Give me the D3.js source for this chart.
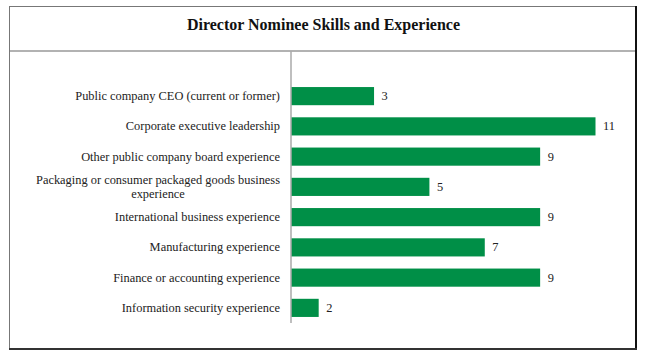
<!DOCTYPE html>
<html>
<head>
<meta charset="utf-8">
<script src="https://cdn.jsdelivr.net/npm/d3@7"></script>
<style>
  html, body { margin: 0; padding: 0; background: #fff; }
  svg { display: block; }
  text { font-family: "Liberation Serif", "Times New Roman", serif; }
</style>
</head>
<body>
<svg id="chart" width="650" height="360"></svg>
<script>
const title = "Director Nominee Skills and Experience";
const categories = [
  ["Public company CEO (current or former)"],
  ["Corporate executive leadership"],
  ["Other public company board experience"],
  ["Packaging or consumer packaged goods business", "experience"],
  ["International business experience"],
  ["Manufacturing experience"],
  ["Finance or accounting experience"],
  ["Information security experience"]
];
// bar lengths as drawn in the reference
const values = [3, 11, 9, 5, 9, 7, 9, 1];
// printed value labels
const valueLabels = ["3", "11", "9", "5", "9", "7", "9", "2"];

const svg = d3.select("#chart");
const green = "#008f47";
const fs = 12.4;

// frame
svg.append("rect").attr("x", 9.5).attr("y", 6.5).attr("width", 627).attr("height", 342)
  .attr("fill", "#fff").attr("stroke", "#777").attr("stroke-width", 1);
svg.append("line").attr("x1", 636).attr("x2", 636).attr("y1", 6).attr("y2", 350)
  .attr("stroke", "#111").attr("stroke-width", 2);
svg.append("line").attr("x1", 9).attr("x2", 637).attr("y1", 349).attr("y2", 349)
  .attr("stroke", "#333").attr("stroke-width", 2);
// title separator
svg.append("line").attr("x1", 10).attr("x2", 635).attr("y1", 51).attr("y2", 51)
  .attr("stroke", "#999").attr("stroke-width", 1.5);

svg.append("text").attr("x", 323.5).attr("y", 29.5).attr("text-anchor", "middle")
  .attr("font-size", 16).attr("font-weight", "bold").attr("fill", "#111").text(title);

const x = d3.scaleLinear().domain([0, 11]).range([291, 595.5]);
const y = d3.scaleBand().domain(d3.range(categories.length)).range([81, 323]).paddingInner(0.4).paddingOuter(0.2);

// bars
svg.append("g").selectAll("rect").data(values).join("rect")
  .attr("x", x(0))
  .attr("y", (d, i) => y(i))
  .attr("width", d => x(d) - x(0))
  .attr("height", y.bandwidth())
  .attr("fill", green);

// axis line
svg.append("line").attr("x1", x(0)).attr("x2", x(0)).attr("y1", 51).attr("y2", 323)
  .attr("stroke", "#aaa").attr("stroke-width", 1.5);

// value labels
svg.append("g").selectAll("text").data(values).join("text")
  .attr("x", d => x(d) + 7.5)
  .attr("y", (d, i) => y(i) + y.bandwidth() / 2 + 4)
  .attr("font-size", fs).attr("fill", "#222")
  .text((d, i) => valueLabels[i]);

// category labels
const labelRight = 280;
const lg = svg.append("g");
categories.forEach((lines, i) => {
  const cy = y(i) + y.bandwidth() / 2;
  const lh = 13.5;
  if (lines.length === 1) {
    lg.append("text").attr("x", labelRight).attr("y", cy + 4)
      .attr("text-anchor", "end").attr("font-size", fs).attr("fill", "#222").text(lines[0]);
  } else {
    const t0 = lg.append("text").attr("x", labelRight).attr("text-anchor", "end")
      .attr("font-size", fs).attr("fill", "#222")
      .attr("y", cy + 4 - lh * (lines.length - 1) / 2).text(lines[0]);
    const w = t0.node().getComputedTextLength();
    const mid = labelRight - w / 2;
    lines.slice(1).forEach((ln, k) => {
      lg.append("text").attr("x", mid).attr("text-anchor", "middle")
        .attr("font-size", fs).attr("fill", "#222")
        .attr("y", cy + 4 - lh * (lines.length - 1) / 2 + lh * (k + 1)).text(ln);
    });
  }
});
</script>
</body>
</html>
